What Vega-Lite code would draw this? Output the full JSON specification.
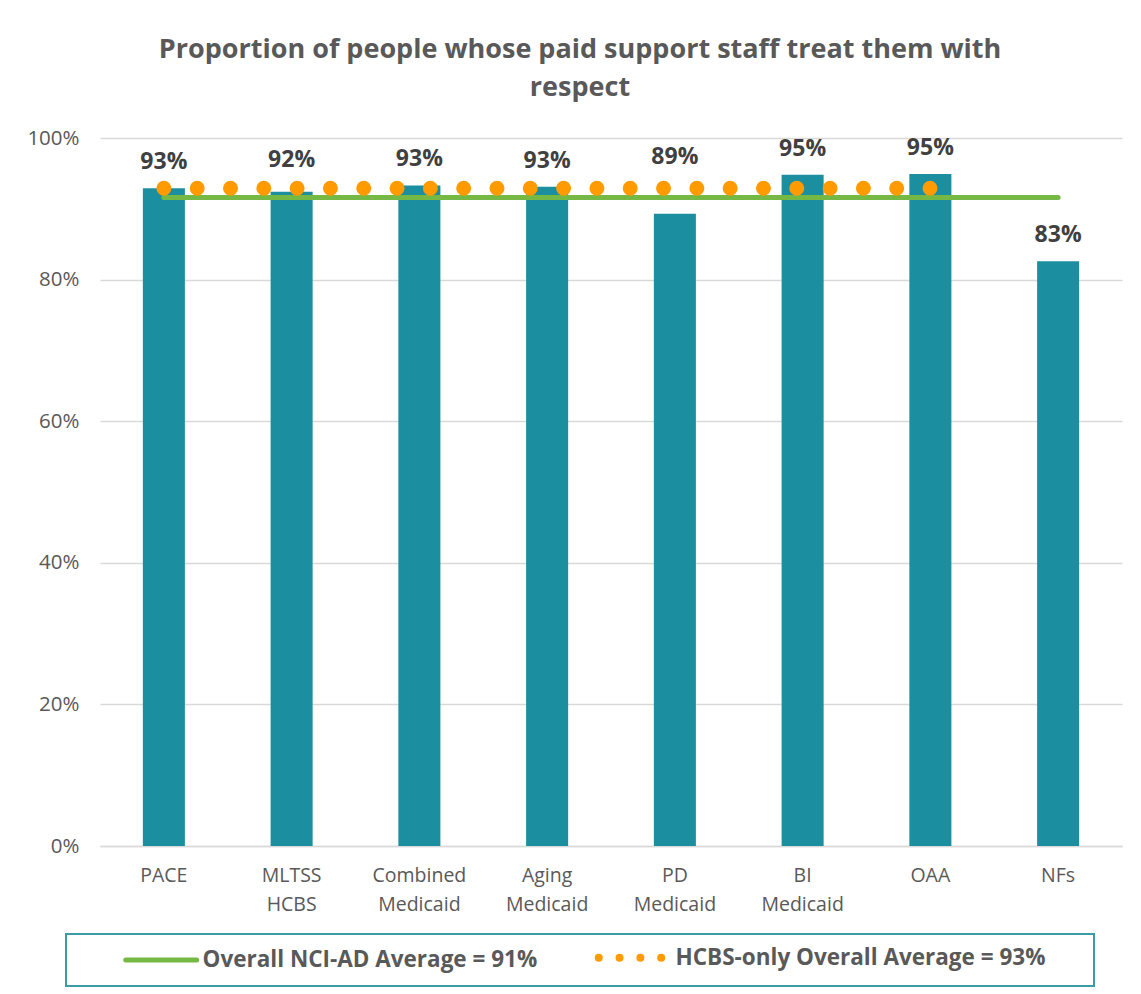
{
  "$schema": "https://vega.github.io/schema/vega-lite/v6.json",
  "width": 1022,
  "height": 708,
  "autosize": {"type": "none"},
  "padding": {"left": 100, "top": 138, "right": 19, "bottom": 148},
  "background": "white",
  "title": {
    "text": ["Proportion of people whose paid support staff treat them with", "respect"],
    "font": "Open Sans",
    "fontSize": 27,
    "fontWeight": "bold",
    "color": "#595959",
    "lineHeight": 38,
    "anchor": "middle",
    "frame": "group",
    "dx": -31,
    "offset": 26
  },
  "datasets": {
    "bars": [
      {"group": "PACE", "value": 0.929},
      {"group": "MLTSS HCBS", "value": 0.924},
      {"group": "Combined Medicaid", "value": 0.933},
      {"group": "Aging Medicaid", "value": 0.931},
      {"group": "PD Medicaid", "value": 0.893},
      {"group": "BI Medicaid", "value": 0.948},
      {"group": "OAA", "value": 0.949},
      {"group": "NFs", "value": 0.826}
    ],
    "averages": [
      {"series": "Overall NCI-AD Average = 91%", "group": "PACE", "value": 0.916},
      {"series": "Overall NCI-AD Average = 91%", "group": "NFs", "value": 0.916},
      {"series": "HCBS-only Overall Average = 93%", "group": "PACE", "value": 0.929},
      {"series": "HCBS-only Overall Average = 93%", "group": "OAA", "value": 0.929}
    ]
  },
  "encoding": {
    "x": {
      "field": "group",
      "type": "nominal",
      "sort": ["PACE", "MLTSS HCBS", "Combined Medicaid", "Aging Medicaid", "PD Medicaid", "BI Medicaid", "OAA", "NFs"],
      "scale": {"paddingInner": 0.671, "paddingOuter": 0.3355},
      "axis": {
        "title": null,
        "labelAngle": 0,
        "labelExpr": "split(datum.label, ' ')",
        "labelFont": "Open Sans",
        "labelFontSize": 19.5,
        "labelColor": "#595959",
        "labelLineHeight": 29,
        "labelPadding": 20,
        "labelBaseline": "top",
        "ticks": false,
        "domain": true,
        "domainColor": "#d9d9d9",
        "domainWidth": 1.5
      }
    },
    "y": {
      "field": "value",
      "type": "quantitative",
      "scale": {"domain": [0, 1], "nice": false},
      "axis": {
        "title": null,
        "values": [0, 0.2, 0.4, 0.6, 0.8, 1],
        "format": ".0%",
        "labelFont": "Open Sans",
        "labelFontSize": 20.5,
        "labelColor": "#595959",
        "labelPadding": 21,
        "ticks": false,
        "domain": false,
        "grid": true,
        "gridColor": "#d9d9d9",
        "gridWidth": 1.5
      }
    }
  },
  "layer": [
    {
      "data": {"name": "bars"},
      "mark": {"type": "bar", "color": "#1b8fa0"}
    },
    {
      "data": {"name": "averages"},
      "transform": [{"filter": "datum.series === 'Overall NCI-AD Average = 91%'"}],
      "mark": {"type": "line", "strokeWidth": 5, "strokeCap": "round"},
      "encoding": {
        "color": {
          "field": "series",
          "type": "nominal",
          "scale": {
            "domain": ["Overall NCI-AD Average = 91%", "HCBS-only Overall Average = 93%"],
            "range": ["#75b843", "#ff9a00"]
          },
          "legend": {
            "orient": "none",
            "legendX": -34,
            "legendY": 796,
            "direction": "horizontal",
            "title": " ",
            "titleOrient": "right",
            "titlePadding": 37,
            "titleFontSize": 10,
            "symbolType": "stroke",
            "symbolSize": 5041,
            "symbolOffset": 72,
            "labelOffset": 30,
            "columnPadding": 13,
            "labelFont": "Open Sans",
            "labelFontSize": 22.5,
            "labelFontWeight": "bold",
            "labelColor": "#595959",
            "labelLimit": 0,
            "padding": 12,
            "strokeColor": "#3d9ba6",
            "encode": {
              "legend": {"update": {"strokeWidth": {"value": 2}}},
              "symbols": {
                "update": {
                  "strokeCap": {"value": "round"},
                  "strokeWidth": {"signal": "datum.value === 'HCBS-only Overall Average = 93%' ? 8 : 5"},
                  "strokeDash": {"signal": "datum.value === 'HCBS-only Overall Average = 93%' ? [0.01, 20.8] : [1, 0]"},
                  "strokeDashOffset": {"value": 0}
                }
              }
            }
          }
        }
      }
    },
    {
      "data": {"name": "averages"},
      "transform": [{"filter": "datum.series === 'HCBS-only Overall Average = 93%'"}],
      "mark": {"type": "line", "strokeWidth": 15, "strokeCap": "round", "strokeDash": [0.01, 33.3]},
      "encoding": {
        "color": {"field": "series", "type": "nominal"}
      }
    },
    {
      "data": {"name": "bars"},
      "transform": [{"filter": "datum.group !== 'PD Medicaid' && datum.group !== 'MLTSS HCBS'"}],
      "mark": {"type": "text", "font": "Open Sans", "fontSize": 23, "fontWeight": "bold", "color": "#404040", "baseline": "alphabetic", "dy": -19},
      "encoding": {"text": {"field": "value", "type": "quantitative", "format": ".0%"}}
    },
    {
      "data": {"name": "bars"},
      "transform": [{"filter": "datum.group === 'MLTSS HCBS'"}],
      "mark": {"type": "text", "font": "Open Sans", "fontSize": 23, "fontWeight": "bold", "color": "#404040", "baseline": "alphabetic", "dy": -25},
      "encoding": {"text": {"field": "value", "type": "quantitative", "format": ".0%"}}
    },
    {
      "data": {"name": "bars"},
      "transform": [{"filter": "datum.group === 'PD Medicaid'"}],
      "mark": {"type": "text", "font": "Open Sans", "fontSize": 23, "fontWeight": "bold", "color": "#404040", "baseline": "alphabetic", "dy": -50},
      "encoding": {"text": {"field": "value", "type": "quantitative", "format": ".0%"}}
    }
  ],
  "config": {
    "view": {"stroke": null}
  }
}
